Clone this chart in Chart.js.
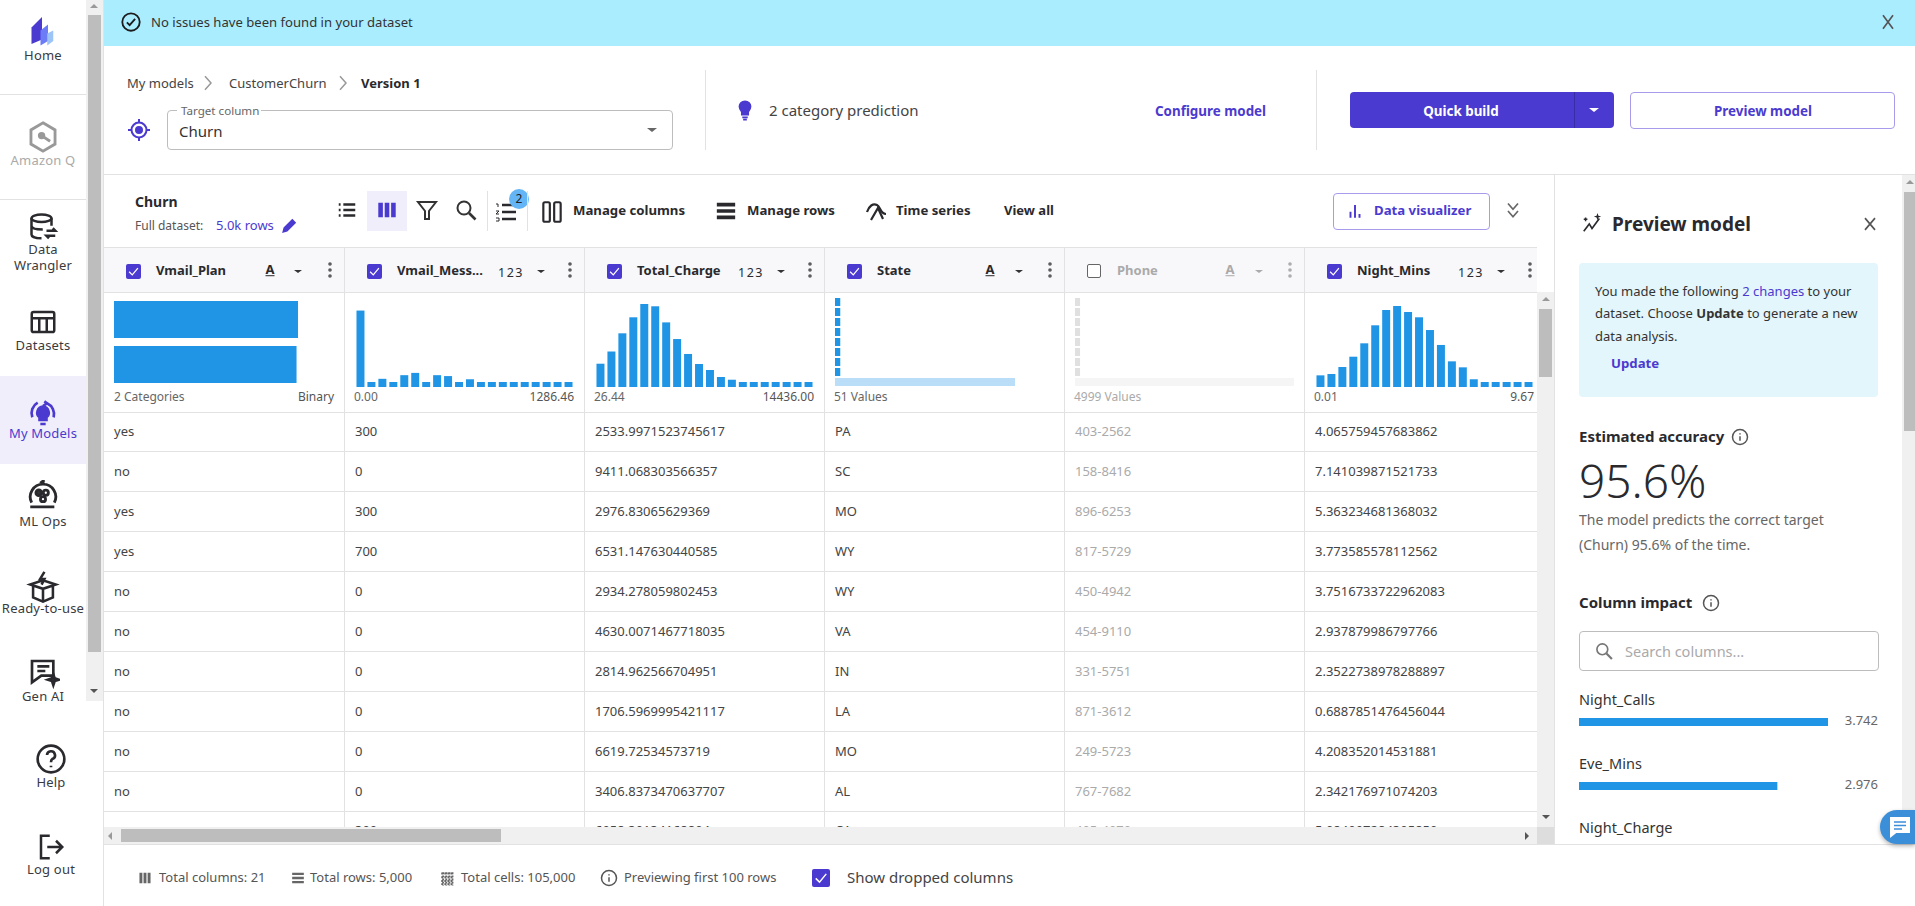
<!DOCTYPE html>
<html>
<head>
<meta charset="utf-8">
<title>Preview model</title>
<script src="https://cdn.jsdelivr.net/npm/chart.js@4"></script>
<style>
html,body{margin:0;padding:0;background:#fff;overflow:hidden}
#page{position:relative;width:1915px;height:906px;overflow:hidden;font-family:"Noto Sans",sans-serif;font-size:13px;color:#2a2a2e}
#page span.t{position:absolute;white-space:nowrap;transform:translateY(-50%);line-height:1.2}
#page div.r,#page svg,#page canvas{position:absolute}
</style>
</head>
<body>
<div id="page"></div>
<script>
'use strict';
//column data
var columnNames = ['Vmail_Plan','Vmail_Mess...','Total_Charge','State','Phone','Night_Mins'];
var columnTypes = ['A','123','123','A','A','123'];
var summaryLeft = ['2 Categories','0.00','26.44','51 Values','4999 Values','0.01'];
var summaryRight = ['Binary','1286.46','14436.00','','','9.67'];

//histograms, bar height as percent of the cell
var histBins = ['1','2','3','4','5','6','7','8','9','10','11','12','13','14','15','16','17','18','19','20'];
var vmailMessValues = [84,5.5,9,5.5,13,15.5,5.5,13,12,5.5,8.5,5.5,5.5,5.5,5.5,5.5,5.5,5.5,5.5,5.5];
var totalChargeValues = [25.6,39,59,76.6,91.2,88.7,71,52.7,36.3,25.3,18.7,11,8,5.5,5.5,5.5,5.5,5.5,5.5,5.5];
var nightMinsValues = [12.8,14.3,22,33.3,48,67.8,84.6,89,82.4,76.6,62.6,46.2,28.2,21.6,8.5,5.5,5.5,5.5,5.5,5.5];

//category bars, percent of the cell width
var planCategories = ['no','yes'];
var planValues = [50.4,50];
var stateCategories = ['WV','MN','NY','AL','OH','OR','WI','VA','Other'];
var stateValues = [2.4,2.4,2.4,2.4,2.4,2.4,2.4,2.4,82.2];
var phoneCategories = ['403-2562','158-8416','896-6253','817-5729','450-4942','454-9110','331-5751','871-3612','Other'];
var phoneValues = [2.3,2.3,2.3,2.3,2.3,2.3,2.3,2.3,100];

//column impact
var impactNames = ['Night_Calls','Eve_Mins','Night_Charge'];
var impactValues = [3.742,2.976];

//table rows
var planRows = ['yes','no','yes','yes','no','no','no','no','no','no','yes'];
var messRows = ['300','0','300','700','0','0','0','0','0','0','300'];
var chargeRows = ['2533.9971523745617','9411.068303566357','2976.83065629369','6531.147630440585','2934.278059802453','4630.0071467718035','2814.962566704951','1706.5969995421117','6619.72534573719','3406.8373470637707','6958.30134168804'];
var stateRows = ['PA','SC','MO','WY','WY','VA','IN','LA','MO','AL','CA'];
var phoneRows = ['403-2562','158-8416','896-6253','817-5729','450-4942','454-9110','331-5751','871-3612','249-5723','767-7682','405-4970'];
var nightRows = ['4.065759457683862','7.141039871521733','5.363234681368032','3.773585578112562','3.7516733722962083','2.937879986797766','2.3522738978288897','0.6887851476456044','4.208352014531881','2.342176971074203','5.084997284305850'];

var page = document.getElementById('page');
var PURPLE = '#4B3AD0';
var BLUE = '#2095E5';
var LINE = '#E2E2E2';
var colX = [104,344,584,824,1064,1304];
var caretOffset = [194,197,197,195,195,197];

//helpers
function rect(x,y,w,h,bg,extra){
  var d = document.createElement('div');
  d.className = 'r';
  d.style.cssText = 'left:'+x+'px;top:'+y+'px;width:'+w+'px;height:'+h+'px;background:'+bg+';'+(extra||'');
  page.appendChild(d);
  return d;
}
function txt(x,y,s,size,color,bold,align){
  var d = document.createElement('span');
  d.className = 't';
  d.innerHTML = s;
  d.style.top = (y+1)+'px';
  d.style.fontSize = (size||13)+'px';
  d.style.color = color||'#2a2a2e';
  if(bold){ d.style.fontWeight = '700'; }
  if(align === 'c'){
    d.style.left = x+'px';
    d.style.transform = 'translate(-50%,-50%)';
  }else if(align === 'r'){
    d.style.right = (1915-x)+'px';
  }else{
    d.style.left = x+'px';
  }
  page.appendChild(d);
  return d;
}
function icon(cx,cy,size,body,stroke){
  var ns = 'http://www.w3.org/2000/svg';
  var s = document.createElementNS(ns,'svg');
  s.setAttribute('viewBox','0 0 24 24');
  s.setAttribute('width',size);
  s.setAttribute('height',size);
  s.style.left = (cx-size/2)+'px';
  s.style.top = (cy-size/2)+'px';
  s.setAttribute('fill','none');
  s.setAttribute('stroke',stroke||'#2a2a2e');
  s.setAttribute('stroke-width','2');
  s.innerHTML = body;
  page.appendChild(s);
}
function caret(cx,cy,color,w){
  w = w||5;
  var c = rect(cx-w,cy-w*0.45,0,0,'transparent','border-left:'+w+'px solid transparent;border-right:'+w+'px solid transparent;border-top:'+(w-1)+'px solid '+color+';');
  return c;
}
function arrow(cx,cy,dir,color){
  var b = '4px solid transparent;';
  var css = '';
  if(dir === 'up'){ css = 'border-left:'+b+'border-right:'+b+'border-bottom:4px solid '+color+';'; }
  if(dir === 'down'){ css = 'border-left:'+b+'border-right:'+b+'border-top:4px solid '+color+';'; }
  if(dir === 'left'){ css = 'border-top:'+b+'border-bottom:'+b+'border-right:4px solid '+color+';'; }
  if(dir === 'right'){ css = 'border-top:'+b+'border-bottom:'+b+'border-left:4px solid '+color+';'; }
  rect(cx-4,cy-3,0,0,'transparent',css);
}
function checkbox(cx,cy,size,checked,color){
  if(checked){
    rect(cx-size/2,cy-size/2,size,size,PURPLE,'border-radius:2px;');
    icon(cx,cy,size,'<path d="M5 12.5l5 5 9-11"/>','#fff');
  }else{
    rect(cx-size/2,cy-size/2,size-3,size-3,'#fff','border:1.5px solid '+color+';border-radius:2px;');
  }
}
function barChart(x,y,w,h,labels,values,colors,horizontal,maxValue,barPercent){
  var c = document.createElement('canvas');
  c.width = w;
  c.height = h;
  c.style.left = x+'px';
  c.style.top = y+'px';
  page.appendChild(c);
  return new Chart(c,{
    type: 'bar',
    data: {
      labels: labels,
      datasets: [{
        data: values,
        backgroundColor: colors,
        barPercentage: barPercent,
        categoryPercentage: 1
      }]
    },
    options: {
      indexAxis: horizontal ? 'y' : 'x',
      responsive: false,
      animation: false,
      layout: {padding: 0},
      plugins: {legend: {display: false}, tooltip: {enabled: false}},
      scales: {
        x: horizontal ? {display: false, min: 0, max: maxValue} : {display: false},
        y: horizontal ? {display: false} : {display: false, min: 0, max: maxValue}
      }
    }
  });
}
function topValues(color,last){
  var out = [];
  for(var i = 0; i < 8; i++){ out.push(color); }
  out.push(last);
  return out;
}
function sideLabel(x,y,s,color){
  var d = txt(x,y,s,13,color||'#3a3a3e',false,'c');
  d.style.letterSpacing = '.2px';
}

//top banner
rect(104,0,1811,46,'#AAEDFF');
icon(131,22,22,'<circle cx="12" cy="12" r="9.5"/><path d="M7.5 12.5l3 3 6-7"/>','#1c1c1c');
txt(151,22,'No issues have been found in your dataset',13.1,'#333');
icon(1888,22,20,'<path d="M6 4l12 16M18 4L6 20"/>','#555');

//header
txt(127,83,'My models',13,'#444');
icon(208,83,18,'<path d="M8 3l8 9-8 9"/>','#999');
txt(229,83,'CustomerChurn',13,'#444');
icon(343,83,18,'<path d="M8 3l8 9-8 9"/>','#999');
txt(361,83,'Version 1',13,'#2a2a2e',true);
icon(139,130,24,'<circle cx="12" cy="12" r="7.5"/><circle cx="12" cy="12" r="3" fill="'+PURPLE+'"/><path d="M12 1v3.5M12 19.5V23M1 12h3.5M19.5 12H23"/>',PURPLE);
rect(167,110,504,38,'#fff','border:1px solid #BDBDBD;border-radius:4px;');
rect(177,106,84,9,'#fff');
txt(181,110,'Target column',11.6,'#666');
txt(179,130,'Churn',15,'#333');
caret(652,130,'#666');
rect(705,70,1,80,LINE);
rect(1316,70,1,80,LINE);
icon(745,110,22,'<path d="M12 2.5c-3.6 0-6 2.6-6 5.8 0 2.6 1.6 4.2 2.6 5.7V17h6.8v-3c1-1.5 2.6-3.1 2.6-5.7 0-3.2-2.4-5.8-6-5.8z" fill="'+PURPLE+'"/><path d="M9 20h6M10 22.5h4"/>',PURPLE);
txt(769,109,'2 category prediction',15,'#444');
txt(1155,110,'Configure model',13.4,PURPLE,true);
rect(1350,92,264,36,PURPLE,'border-radius:4px;');
rect(1574,92,1,36,'#3A2BA8');
txt(1461,110,'Quick build',13.4,'#fff',true,'c');
caret(1594,110,'#fff');
rect(1630,92,263,35,'#fff','border:1px solid #A89BEC;border-radius:4px;');
txt(1763,110,'Preview model',13.4,PURPLE,true,'c');
rect(104,174,1811,1,LINE);

//toolbar
txt(135,201,'Churn',14,'#2a2a2e',true);
txt(135,225,'Full dataset:',12,'#555');
txt(216,225,'5.0k rows',13,PURPLE);
icon(289,225,17,'<path d="M3 21l1.5-5.5L16 4l4 4L8.5 19.5z" fill="'+PURPLE+'"/>',PURPLE);
icon(347,210,22,'<path d="M8 6h13M8 12h13M8 18h13M3 6h2M3 12h2M3 18h2" stroke-width="2.6"/>');
rect(367,191,40,40,'#F0EEFA');
icon(387,210,22,'<path d="M5 4v16M12 4v16M19 4v16" stroke-width="5"/>',PURPLE);
icon(427,210,24,'<path d="M3 4h18l-7 9v8h-4v-8z"/>','#333');
icon(466,210,24,'<circle cx="10" cy="10" r="6.5"/><path d="M15 15l6.5 6.5" stroke-width="2.6"/>','#333');
rect(487,191,1,40,LINE);
icon(506,212,24,'<path d="M8 5h14M8 12h14M8 19h14" stroke-width="2.4"/><path d="M2 4h2v3M2 11h3l-3 3h3M2 18h3v3H2" stroke-width="1"/>');
rect(509,189,20,20,'#64B5F6','border-radius:50%;');
txt(519,198,'2',12,'#222',false,'c');
rect(527,191,1,40,LINE);
icon(552,212,26,'<rect x="4" y="3" width="6" height="18" rx="1.5"/><rect x="14" y="3" width="6" height="18" rx="1.5"/>');
txt(573,210,'Manage columns',13.2,'#2a2a2e',true);
icon(726,211,22,'<path d="M2 5h20M2 12h20M2 19h20" stroke-width="4"/>');
txt(747,210,'Manage rows',13.2,'#2a2a2e',true);
icon(877,211,24,'<path d="M2 13c2-6 6-9 10-7 4 2 3 9 9 9" stroke-width="2.2"/><path d="M6 21L13 9l5 11" stroke-width="2.2"/>');
txt(896,210,'Time series',13.2,'#2a2a2e',true);
txt(1004,210,'View all',13,'#2a2a2e',true);
rect(1333,193,155,35,'#fff','border:1px solid #A89BEC;border-radius:4px;');
icon(1355,211,18,'<path d="M6 13v8M12 4v17M18 16v5" stroke-width="2.6"/>',PURPLE);
txt(1374,210,'Data visualizer',13.2,PURPLE,true);
icon(1513,211,20,'<path d="M6 3l6 7 6-7M6 12l6 7 6-7"/>','#666');

//grid header and summary
rect(104,247,1433,45,'#F8F8FA');
rect(104,247,1433,1,LINE);
rect(104,292,1433,1,LINE);
rect(104,412,1433,1,LINE);
columnNames.forEach(function(name,i){
  var x = colX[i];
  var off = i === 4;
  var tc = off ? '#AAAAAA' : '#2a2a2e';
  checkbox(x+(i === 0 ? 29 : 30),271,15,!off,'#666');
  txt(x+(i === 0 ? 52 : 53),270,name,13,tc,true);
  if(columnTypes[i] === 'A'){
    var a = txt(x+166,269,'A',13,tc,true,'c');
    a.style.textDecoration = 'underline';
  }else{
    var n = txt(x+167,271,columnTypes[i],12.5,tc,false,'c');
    n.style.letterSpacing = '1.5px';
  }
  caret(x+caretOffset[i],272,off ? '#AAAAAA' : '#333',4.5);
  icon(x+226,270,18,'<circle cx="12" cy="4" r="1.4"/><circle cx="12" cy="12" r="1.4"/><circle cx="12" cy="20" r="1.4"/>',off ? '#AAAAAA' : '#555');
  txt(x+10,396,summaryLeft[i],12,off ? '#AAAAAA' : '#666');
  if(summaryRight[i]){ txt(x+230,396,summaryRight[i],12,'#555',false,'r'); }
});

//summary charts
barChart(114,297,184,90,planCategories,planValues,[BLUE,BLUE],true,50.4,0.82);
barChart(355,296,219,91,histBins,vmailMessValues,BLUE,false,100,0.73);
barChart(595,296,219,91,histBins,totalChargeValues,BLUE,false,100,0.73);
barChart(835,297,219,90,stateCategories,stateValues,topValues(BLUE,'#BBDEF8'),true,100,0.8);
barChart(1075,297,219,90,phoneCategories,phoneValues,topValues('#E0E0E0','#F5F5F5'),true,100,0.8);
barChart(1315,296,219,91,histBins,nightMinsValues,BLUE,false,100,0.73);

//table rows, the last one is cut off by the scrollbar
var tableRows = [planRows,messRows,chargeRows,stateRows,phoneRows,nightRows];
planRows.forEach(function(v,r){
  var y = 431+40*r-(r === 10 ? 1 : 0);
  tableRows.forEach(function(col,c){
    txt(colX[c]+(c === 0 ? 10 : 11),y,col[r],13,c === 4 ? '#AAAAAA' : '#444');
  });
  rect(104,451+40*r,1433,1,LINE);
});
colX.forEach(function(x){
  if(x > 104){ rect(x,247,1,580,LINE); }
});
rect(103,174,1,670,LINE);

//grid scrollbars
rect(1537,292,18,535,'#F0F0F0');
rect(1539,309,13,68,'#BDBDBD');
arrow(1546,300,'up','#999');
arrow(1546,818,'down','#555');
rect(104,827,1451,17,'#F0F0F0');
rect(121,829,380,13,'#BDBDBD');
arrow(112,835,'left','#999');
arrow(1529,835,'right','#555');
rect(1537,827,18,17,'#DDDDDD');

//preview panel
rect(1555,175,347,669,'#fff');
rect(1554,174,1,670,LINE);
icon(1592,223,22,'<path d="M3 21l6-8 3 5 8-11" stroke-width="1.8"/><path d="M18 1l1 3 3 1-3 1-1 3-1-3-3-1 3-1z" fill="#2a2a2e" stroke="none"/><path d="M5 6v4M3 8h4" stroke-width="1.6"/>');
txt(1612,223,'Preview model',19,'#2a2a2e',true);
icon(1870,224,20,'<path d="M6 5l12 14M18 5L6 19"/>','#555');
rect(1579,263,299,134,'#E3F6FC','border-radius:4px;');
txt(1595,291,'You made the following <span style="color:'+PURPLE+'">2 changes</span> to your',13,'#333');
txt(1595,313,'dataset. Choose <b>Update</b> to generate a new',13,'#333');
txt(1595,336,'data analysis.',13,'#333');
txt(1611,363,'Update',13.2,PURPLE,true);
txt(1579,435,'Estimated accuracy',15,'#2a2a2e',true);
icon(1740,437,18,'<circle cx="12" cy="12" r="10"/><path d="M12 11v6M12 7v1.5"/>','#555');
var bigNumber = txt(1579,480,'95.6%',46,'#2a2a2e');
bigNumber.style.fontWeight = '300';
txt(1579,519,'The model predicts the correct target',14,'#666');
txt(1579,544,'(Churn) 95.6% of the time.',14,'#666');
txt(1579,601,'Column impact',15,'#2a2a2e',true);
icon(1711,603,18,'<circle cx="12" cy="12" r="10"/><path d="M12 11v6M12 7v1.5"/>','#555');
rect(1579,631,298,38,'#fff','border:1px solid #BDBDBD;border-radius:4px;');
icon(1604,651,20,'<circle cx="10" cy="10" r="6.5"/><path d="M15 15l6.5 6.5" stroke-width="2.6"/>','#777');
txt(1625,651,'Search columns...',14.5,'#AAAAAA');
txt(1579,699,impactNames[0],14.5,'#333');
barChart(1579,718,249,8,[impactNames[0]],[impactValues[0]],[BLUE],true,impactValues[0],1);
txt(1878,720,impactValues[0].toFixed(3),13,'#666',false,'r');
txt(1579,763,impactNames[1],14.5,'#333');
barChart(1579,782,249,8,[impactNames[1]],[impactValues[1]],[BLUE],true,impactValues[0],1);
txt(1878,784,impactValues[1].toFixed(3),13,'#666',false,'r');
txt(1579,827,impactNames[2],14.5,'#333');

//page scrollbar right
rect(1902,175,13,669,'#F0F0F0');
rect(1904,192,11,239,'#BDBDBD');
arrow(1910,183,'up','#999');

//footer
rect(104,844,1811,62,'#fff');
rect(104,844,1811,1,LINE);
rect(1880,810,35,34,'#3B8FD9','border-radius:17px 0 0 17px;box-shadow:0 2px 4px rgba(0,0,0,.3);');
icon(1900,827,24,'<path d="M3 3h18v14H8l-5 4z" fill="#fff" stroke="#fff"/><path d="M6 7h12M6 10.5h12M6 14h8" stroke="#3B8FD9" stroke-width="1.6"/>','#fff');
icon(145,878,14,'<path d="M5 3v18M12 3v18M19 3v18" stroke-width="5"/>','#666');
txt(159,877,'Total columns: 21',13,'#555');
icon(298,878,14,'<path d="M2 5h20M2 12h20M2 19h20" stroke-width="4"/>','#666');
txt(310,877,'Total rows: 5,000',13,'#555');
icon(447,878,15,'<path d="M2 4h20M2 10h20M2 16h20M2 21h20M5 2v21M10 2v21M15 2v21M20 2v21" stroke-width="3" stroke-dasharray="3 2"/>','#666');
txt(461,877,'Total cells: 105,000',13,'#555');
icon(609,878,18,'<circle cx="12" cy="12" r="10"/><path d="M12 11v6M12 7v1.5"/>','#555');
txt(624,877,'Previewing first 100 rows',13,'#555');
checkbox(821,878,18,true,'#666');
txt(847,876,'Show dropped columns',15,'#444');

//sidebar
rect(0,376,86,88,'#F0EEFA');
sideLabel(43,55,'Home');
sideLabel(43,160,'Amazon Q','#AAAAAA');
sideLabel(43,249,'Data');
sideLabel(43,265,'Wrangler');
sideLabel(43,345,'Datasets');
sideLabel(43,433,'My Models',PURPLE);
sideLabel(43,521,'ML Ops');
sideLabel(43,608,'Ready-to-use');
sideLabel(43,696,'Gen AI');
rect(0,94,86,1,LINE);
rect(0,199,86,1,LINE);
rect(0,701,103,30,'#fff');
sideLabel(51,782,'Help');
sideLabel(51,869,'Log out');
icon(42,32,36,'<path d="M5 9l7-7v15l-7 3z" fill="'+PURPLE+'" stroke="none"/><path d="M11 11l5-4v11l-5 3z" fill="#6B7CF6" stroke="none"/><path d="M15.5 13l4-2v7l-4 3z" fill="#9DC4F7" stroke="none"/>');
icon(43,137,34,'<path d="M12 2l8.5 5v10L12 22l-8.5-5V7z"/><circle cx="11" cy="11" r="1.6" fill="#999"/><path d="M11 11l6 4"/>','#999');
icon(44,227,30,'<ellipse cx="10" cy="5" rx="8" ry="3"/><path d="M2 5v13c0 2 4 3 8 3M18 5v6M2 11c0 2 4 3 9 3"/><path d="M14 15h7l-2-2M21 19h-7l2 2"/>');
icon(43,322,30,'<rect x="3" y="4" width="18" height="16" rx="1.5"/><path d="M3 9h18M9 9v11M15 9v11"/>');
icon(43,412,32,'<path d="M12 8a4.5 4.5 0 0 1 2.6 8v2H9.4v-2A4.5 4.5 0 0 1 12 8z" fill="'+PURPLE+'"/><path d="M4 16A9 9 0 0 1 8 5M20 16a9 9 0 0 0-5-10.5l-2-1.5M15 5.500l-3 2M10 21h4"/>',PURPLE);
icon(43,497,34,'<path d="M4 16a9 9 0 1 1 16 0M3 19h17M13 3l-2-1.500L13 0"/><circle cx="9" cy="9" r="2" fill="#333"/><circle cx="14" cy="9" r="1.8"/><circle cx="12" cy="13.5" r="1.8"/>');
icon(43,586,34,'<path d="M3 11l9-3 9 3-9 3zM5 12v8l7 3 7-3v-8M12 14v9M13 2l-3 5h3l-2 4" stroke-width="1.8"/>');
icon(44,673,32,'<path d="M3 3h16v11h-9l-7 5z"/><path d="M7 7h9M7 10.5h6"/><path d="M19 13l1 3 3 1-3 1-1 3-1-3-3-1 3-1z" fill="#333"/>');
icon(51,759,32,'<circle cx="12" cy="12" r="10"/><path d="M9 9a3 3 0 1 1 4 3c-1 .5-1 1-1 2.5M12 17v1.2"/>');
icon(51,847,30,'<path d="M11 3H4v18h7M9 12h12M16 7l5 5-5 5"/>');
rect(86,0,17,701,'#F0F0F0');
rect(88,15,13,637,'#BDBDBD');
arrow(94,7,'up','#999');
arrow(94,692,'down','#555');
rect(103,0,1,906,LINE);
</script>
</body>
</html>
